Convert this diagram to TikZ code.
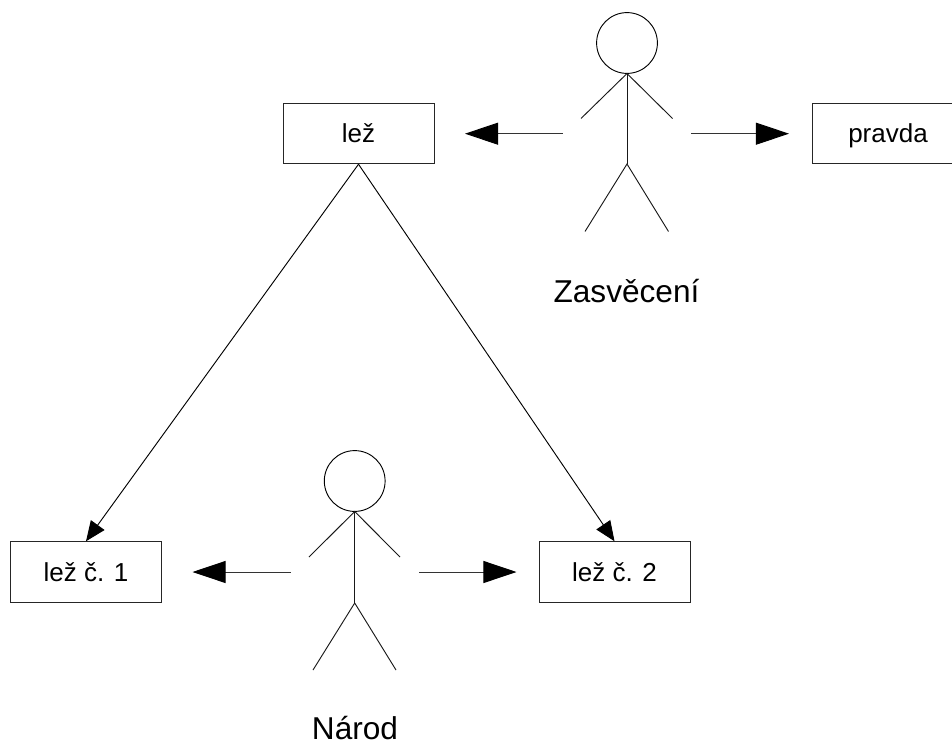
\documentclass[tikz,border=0pt]{standalone}
\usepackage{fontspec}
\setmainfont{Liberation Sans}
\usetikzlibrary{arrows.meta}
\tikzset{
  box/.style={draw=black!85,line width=0.7pt,minimum width=113.25pt,minimum height=45.4pt,inner sep=0pt,font=\fontsize{19.5}{22}\selectfont,text height=14pt,text depth=0pt},
  head/.style={circle,draw=black,line width=0.7pt,minimum size=45.6pt,inner sep=0pt},
  limb/.style={draw=black!90,line width=0.7pt},
  bigarrow/.style={draw=black!80,line width=0.7pt,-{Triangle[length=24.8pt,width=16.5pt,black]}},
  thinarrow/.style={draw=black,line width=0.7pt,-{Triangle[length=15pt,width=12.5pt,black]}},
  caption/.style={font=\fontsize{23.7}{28}\selectfont,anchor=base,inner sep=0pt}
}
\begin{document}
\begin{tikzpicture}[x=0.75pt,y=-0.75pt]
\useasboundingbox (0,0) rectangle (952,742);
% boxes
\node[box] (lez) at (358.5,133.5) {lež};
\node[box] (pravda) at (888,133.5) {pravda};
\node[box] (lez1) at (86,572) {lež č. 1};
\node[box] (lez2) at (614.5,572) {lež č. 2};
% upper figure
\node[head] (h1) at (627,43) {};
\coordinate (n1) at (627,73.5);
\coordinate (b1) at (627,164);
\coordinate (al1) at (581,118.5);
\coordinate (ar1) at (672.5,118.5);
\coordinate (ll1) at (585,231.5);
\coordinate (lr1) at (668.5,231.5);
\draw[limb] (h1.south) -- (b1);
\draw[limb] (al1) -- (n1) -- (ar1);
\draw[limb] (ll1) -- (b1) -- (lr1);
% lower figure
\node[head] (h2) at (354.7,481) {};
\coordinate (n2) at (354.7,511.5);
\coordinate (b2) at (354.7,603);
\coordinate (al2) at (309,557);
\coordinate (ar2) at (400,557);
\coordinate (ll2) at (313,670);
\coordinate (lr2) at (396,670);
\draw[limb] (h2.south) -- (b2);
\draw[limb] (al2) -- (n2) -- (ar2);
\draw[limb] (ll2) -- (b2) -- (lr2);
% arrow ends
\coordinate (t1l) at (562.5,133.7);
\coordinate (e1l) at (465,133.7);
\coordinate (t1r) at (691,133.7);
\coordinate (e1r) at (789,133.7);
\coordinate (t2l) at (290.5,572);
\coordinate (e2l) at (192.5,572);
\coordinate (t2r) at (419,572);
\coordinate (e2r) at (516.5,572);
\draw[bigarrow] (t1l) -- (e1l);
\draw[bigarrow] (t1r) -- (e1r);
\draw[bigarrow] (t2l) -- (e2l);
\draw[bigarrow] (t2r) -- (e2r);
% diagonals
\draw[thinarrow] (lez.south) -- (lez1.north);
\draw[thinarrow] (lez.south) -- (lez2.north);
% captions
\node[caption] (z) at (626.5,302) {Zasvěcení};
\node[caption] (na) at (355,739) {Národ};
\end{tikzpicture}
\end{document}
